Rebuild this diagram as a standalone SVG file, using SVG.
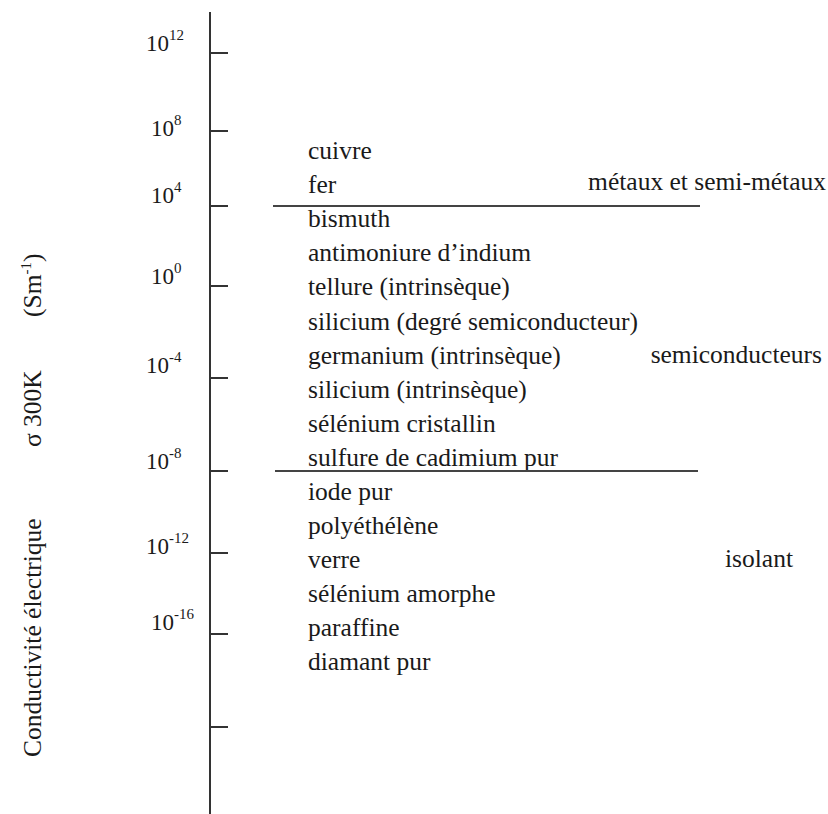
<svg xmlns="http://www.w3.org/2000/svg" width="828" height="814" viewBox="0 0 828 814">
<style>
text{font-family:"Liberation Serif","Times New Roman","DejaVu Serif",serif;fill:#1a1a1a}
.m{font-size:25.5px}
.n{font-size:23px}
.s{font-size:15px}
.ax{stroke:#333;stroke-width:2;fill:none}
.sep{stroke:#444;stroke-width:2;fill:none}
</style>
<rect width="828" height="814" fill="#fff"/>
<g id="axis">
<line class="ax" x1="210" y1="12" x2="210" y2="814"/>
<line class="ax" x1="210" y1="53" x2="228" y2="53"/>
<line class="ax" x1="210" y1="131" x2="228" y2="131"/>
<line class="ax" x1="210" y1="206" x2="228" y2="206"/>
<line class="ax" x1="210" y1="286" x2="228" y2="286"/>
<line class="ax" x1="210" y1="378" x2="228" y2="378"/>
<line class="ax" x1="210" y1="471" x2="228" y2="471"/>
<line class="ax" x1="210" y1="553" x2="228" y2="553"/>
<line class="ax" x1="210" y1="634" x2="228" y2="634"/>
<line class="ax" x1="210" y1="727" x2="228" y2="727"/>
</g>
<g id="tick-labels">
<text class="n" x="146" y="51">10<tspan class="s" dy="-11">12</tspan></text>
<text class="n" x="151" y="136">10<tspan class="s" dy="-11">8</tspan></text>
<text class="n" x="151" y="203">10<tspan class="s" dy="-11">4</tspan></text>
<text class="n" x="151" y="284">10<tspan class="s" dy="-11">0</tspan></text>
<text class="n" x="146" y="373">10<tspan class="s" dy="-11">-4</tspan></text>
<text class="n" x="146" y="469">10<tspan class="s" dy="-11">-8</tspan></text>
<text class="n" x="146" y="554">10<tspan class="s" dy="-11">-12</tspan></text>
<text class="n" x="151" y="630">10<tspan class="s" dy="-11">-16</tspan></text>
</g>
<g id="axis-title">
<text class="m" transform="translate(41,757) rotate(-90)">Conductivité électrique</text>
<text class="m" transform="translate(41,447) rotate(-90)">σ 300K</text>
<text class="m" transform="translate(41,317) rotate(-90)">(Sm<tspan class="s" dy="-10">-1</tspan><tspan dy="10">)</tspan></text>
</g>
<g id="materials">
<text class="m" x="308" y="159">cuivre</text>
<text class="m" x="308" y="193">fer</text>
<text class="m" x="308" y="227">bismuth</text>
<text class="m" x="308" y="261">antimoniure d’indium</text>
<text class="m" x="308" y="295">tellure (intrinsèque)</text>
<text class="m" x="308" y="330">silicium (degré semiconducteur)</text>
<text class="m" x="308" y="364">germanium (intrinsèque)</text>
<text class="m" x="308" y="398">silicium (intrinsèque)</text>
<text class="m" x="308" y="432">sélénium cristallin</text>
<text class="m" x="308" y="466">sulfure de cadimium pur</text>
<text class="m" x="308" y="500">iode pur</text>
<text class="m" x="308" y="534">polyéthélène</text>
<text class="m" x="308" y="568">verre</text>
<text class="m" x="308" y="602">sélénium amorphe</text>
<text class="m" x="308" y="636">paraffine</text>
<text class="m" x="308" y="670">diamant pur</text>
</g>
<g id="separators">
<line class="sep" x1="273" y1="206" x2="700" y2="206"/>
<line class="sep" x1="275" y1="471" x2="698" y2="471"/>
</g>
<g id="categories">
<text class="m" x="826" y="190" text-anchor="end">métaux et semi-métaux</text>
<text class="m" x="822" y="363" text-anchor="end">semiconducteurs</text>
<text class="m" x="793" y="567" text-anchor="end">isolant</text>
</g>
</svg>
